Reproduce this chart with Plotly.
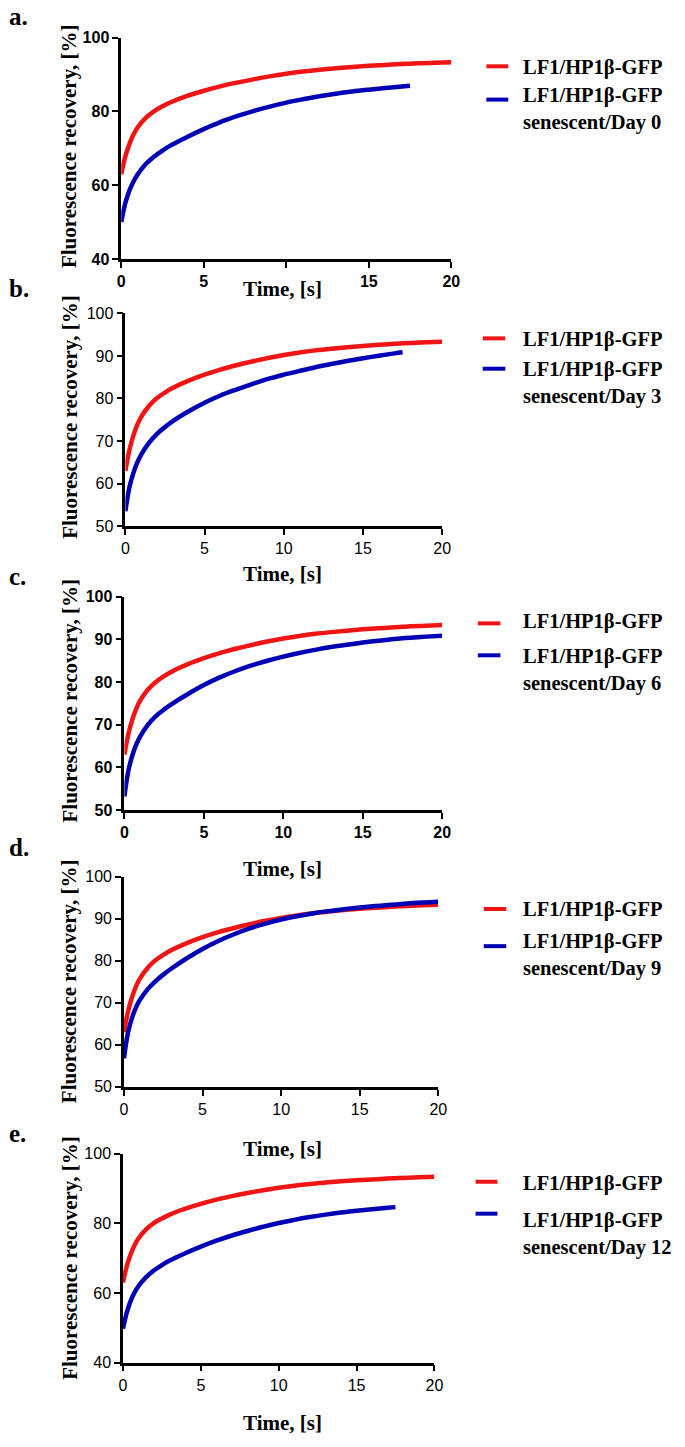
import plotly.graph_objects as go

# shared time axis (s)
time_s = [0, 0.25, 0.5, 0.75, 1, 1.5, 2, 2.5, 3, 4, 5, 6, 7, 8, 9, 10,
          11, 12, 13, 14, 15, 16, 17, 17.5, 18, 19, 20]

# control curve LF1/HP1b-GFP (same in all panels)
control = [63, 67.8, 71.2, 73.8, 75.7, 78.3, 80.1, 81.4, 82.5, 84.2, 85.6, 86.8,
           87.8, 88.7, 89.5, 90.2, 90.8, 91.3, 91.7, 92.05, 92.35, 92.6, 92.85,
           92.95, 93.05, 93.2, 93.35]

# senescent curves
sen_day0 = [50, 55.2, 58.6, 61.1, 63.0, 65.8, 67.8, 69.4, 70.8, 73.1, 75.2, 77.1,
            78.7, 80.1, 81.3, 82.4, 83.3, 84.1, 84.8, 85.4, 85.9, 86.35, 86.75, 86.95]
sen_day3 = [53.5, 59.0, 62.4, 64.9, 66.8, 69.6, 71.7, 73.3, 74.7, 77.0, 79.0, 80.7,
            82.1, 83.4, 84.6, 85.6, 86.5, 87.35, 88.1, 88.8, 89.45, 90.05, 90.6, 90.85]
sen_day6 = [53.2, 59.2, 62.8, 65.4, 67.3, 70.1, 72.1, 73.6, 74.9, 77.2, 79.3, 81.1,
            82.6, 83.9, 85.0, 85.95, 86.8, 87.55, 88.2, 88.75, 89.25, 89.7, 90.1,
            90.25, 90.4, 90.65, 90.85]
sen_day9 = [56.8, 62.8, 66.3, 68.8, 70.6, 73.2, 75.1, 76.7, 78.1, 80.6, 82.8, 84.7,
            86.3, 87.7, 88.85, 89.8, 90.6, 91.25, 91.8, 92.25, 92.65, 93.0, 93.3,
            93.45, 93.6, 93.85, 94.05]
sen_day12 = [49.7, 54.5, 57.8, 60.2, 62.0, 64.6, 66.5, 68.0, 69.3, 71.4, 73.3, 75.0,
             76.5, 77.8, 79.0, 80.1, 81.0, 81.8, 82.5, 83.1, 83.6, 84.05, 84.45, 84.65]

panel_letters = ['a.', 'b.', 'c.', 'd.', 'e.']
days = [0, 3, 6, 9, 12]
senescent = [sen_day0, sen_day3, sen_day6, sen_day9, sen_day12]
y_ranges = [[40, 100], [50, 100], [50, 100], [50, 100], [40, 100]]
y_dticks = [20, 10, 10, 10, 20]
x_ticks = [0, 5, 10, 15, 20]
x_ticktext = [['0', '5', '', '15', '20']] + [['0', '5', '10', '15', '20']] * 4

W, H = 685, 1447
RED = '#f01414'
BLUE = '#0000b4'
SERIF = 'Liberation Serif, Times New Roman, serif'
SANS = 'Liberation Sans, Arial, sans-serif'


def px(x):
    return x / W


def py(y):
    return 1 - y / H


# pixel boxes of the plot areas: (x0, x1, y_top, y_bottom)
boxes = [(119.5, 456, 30, 254), (123.7, 446.7, 309, 524.3), (122.7, 446.7, 595.7, 811.7),
         (122.3, 442.7, 879, 1091.7), (121.3, 438.7, 1159.3, 1370.7)]
tick_bold = [True, False, True, False, False]
ytitle_y = [140, 414, 701, 985, 1265]
xtitle_y = [284, 573, 871, 1155, 1432]
letter_y = [9, 284, 575, 849, 1139]
# legend: line x0, x1, red y, blue y, red text y, blue text block centre y
legends = [(491.7, 514, 59, 92.7, 60, 102),
           (488, 511, 334.3, 365, 335, 379),
           (483, 506, 622.7, 655, 621, 670),
           (489, 512, 911.7, 949.3, 912, 958),
           (480.7, 503, 1187.7, 1220, 1189, 1241)]

fig = go.Figure()
layout = dict(width=W, height=H, margin=dict(l=0, r=0, t=0, b=0),
              plot_bgcolor='white', paper_bgcolor='white', showlegend=False)
annotations = []
shapes = []

for i in range(5):
    xa = 'x' if i == 0 else f'x{i+1}'
    ya = 'y' if i == 0 else f'y{i+1}'
    fig.add_trace(go.Scatter(x=time_s, y=control, mode='lines', line_shape='spline',
                             line=dict(color=RED, width=4.5), xaxis=xa, yaxis=ya,
                             name='LF1/HP1β-GFP'))
    sv = senescent[i]
    fig.add_trace(go.Scatter(x=time_s[:len(sv)], y=sv, mode='lines', line_shape='spline',
                             line=dict(color=BLUE, width=4.5), xaxis=xa, yaxis=ya,
                             name=f'LF1/HP1β-GFP senescent/Day {days[i]}'))

    x0, x1, yt, yb = boxes[i]
    tf = dict(family=SANS, size=16, color='black', weight='bold' if tick_bold[i] else 'normal')
    axkey = 'xaxis' if i == 0 else f'xaxis{i+1}'
    aykey = 'yaxis' if i == 0 else f'yaxis{i+1}'
    layout[axkey] = dict(domain=[px(x0), px(x1)], anchor=ya, range=[0, 20],
                         tickvals=x_ticks, ticktext=x_ticktext[i], ticks='outside',
                         ticklen=6, tickwidth=2, tickcolor='black', showline=True,
                         linecolor='black', linewidth=2.5, showgrid=False, zeroline=False,
                         tickfont=tf)
    layout[aykey] = dict(domain=[py(yb), py(yt)], anchor=xa, range=y_ranges[i],
                         dtick=y_dticks[i], ticks='outside', ticklen=6, tickwidth=2,
                         tickcolor='black', showline=True, linecolor='black',
                         linewidth=2.5, showgrid=False, zeroline=False, tickfont=tf)

    # axis titles
    annotations.append(dict(text='Fluorescence recovery, [%]', textangle=-90,
                            x=px(67), y=py(ytitle_y[i]), xref='paper', yref='paper',
                            xanchor='center', yanchor='middle', showarrow=False,
                            font=dict(family=SERIF, size=21, color='black', weight='bold')))
    annotations.append(dict(text='Time, [s]', x=px(284), y=py(xtitle_y[i]),
                            xref='paper', yref='paper', xanchor='center', yanchor='middle',
                            showarrow=False,
                            font=dict(family=SERIF, size=21, color='black', weight='bold')))
    annotations.append(dict(text=panel_letters[i], x=px(3), y=py(letter_y[i]),
                            xref='paper', yref='paper', xanchor='left', yanchor='middle',
                            showarrow=False,
                            font=dict(family=SERIF, size=25, color='black', weight='bold')))

    # legend
    lx0, lx1, ry, by, rty, bty = legends[i]
    for col, yy in ((RED, ry), (BLUE, by)):
        shapes.append(dict(type='line', xref='paper', yref='paper', x0=px(lx0), x1=px(lx1),
                           y0=py(yy), y1=py(yy), line=dict(color=col, width=4)))
    leg_font = dict(family=SERIF, size=20.5, color='black', weight='bold')
    annotations.append(dict(text='LF1/HP1β-GFP', x=px(527), y=py(rty), xref='paper',
                            yref='paper', xanchor='left', yanchor='middle',
                            showarrow=False, font=leg_font))
    annotations.append(dict(text=f'LF1/HP1β-GFP<br>senescent/Day {days[i]}', align='left',
                            x=px(527), y=py(bty), xref='paper', yref='paper',
                            xanchor='left', yanchor='middle', showarrow=False,
                            font=leg_font))

layout['annotations'] = annotations
layout['shapes'] = shapes
fig.update_layout(**layout)
fig.write_html("out.html", config={'displayModeBar': False},
               post_script="document.body.style.margin='0';")
